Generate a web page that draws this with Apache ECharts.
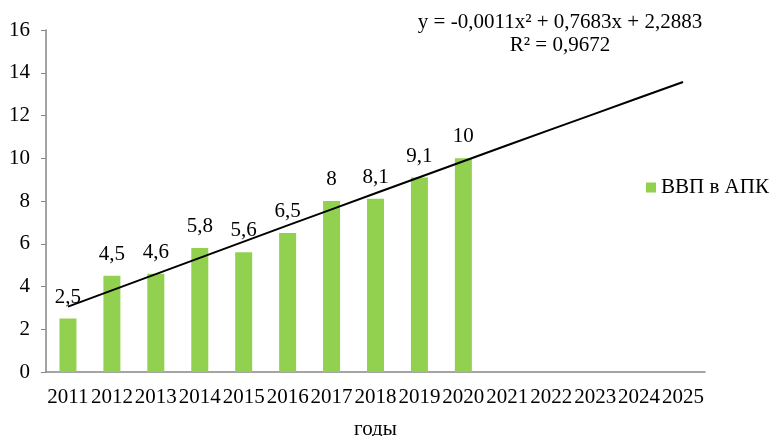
<!DOCTYPE html>
<html>
<head>
<meta charset="utf-8">
<script src="https://cdn.jsdelivr.net/npm/echarts@6/dist/echarts.min.js"></script>
<style>html,body{margin:0;padding:0;background:#fff;}#c{width:774px;height:436px;}</style>
</head>
<body>
<div id="c"></div>
<script>
var years = ['2011','2012','2013','2014','2015','2016','2017','2018','2019','2020','2021','2022','2023','2024','2025'];
var gdpAgro = [2.5, 4.5, 4.6, 5.8, 5.6, 6.5, 8, 8.1, 9.1, 10, null, null, null, null, null];
var trendValues = [3.06, 3.82, 4.58, 5.34, 6.10, 6.86, 7.61, 8.36, 9.11, 9.86, 10.61, 11.35, 12.09, 12.83, 13.57];
var yTicks = [0, 2, 4, 6, 8, 10, 12, 14, 16];
var seriesName = 'ВВП в АПК';
var xTitle = 'годы';
var eqLine1 = 'y = -0,0011x² + 0,7683x + 2,2883';
var eqLine2 = 'R² = 0,9672';

var font = 'Liberation Serif, Times New Roman, serif';
var fs = 21;
var chart = echarts.init(document.getElementById('c'), null, {renderer: 'canvas'});
chart.setOption({
  animation: false,
  textStyle: {fontFamily: font},
  grid: {left: 46, right: 69, top: 30, bottom: 64, containLabel: false, outerBoundsMode: 'none'},
  legend: {
    data: [seriesName],
    orient: 'vertical',
    left: 646, top: 177,
    padding: 0,
    itemWidth: 10, itemHeight: 10, itemGap: 4,
    icon: 'rect',
    textStyle: {fontFamily: font, fontSize: fs, color: '#000'}
  },
  xAxis: {
    type: 'category',
    data: years,
    name: xTitle,
    nameLocation: 'middle',
    nameGap: 47,
    nameTextStyle: {fontFamily: font, fontSize: fs, color: '#000'},
    axisLine: {lineStyle: {color: '#868686', width: 1.5}},
    axisTick: {show: false},
    axisLabel: {interval: 0, fontFamily: font, fontSize: fs, color: '#000', margin: 15}
  },
  yAxis: {
    type: 'value',
    min: yTicks[0], max: yTicks[yTicks.length - 1], interval: 2,
    splitLine: {show: false},
    axisLine: {show: true, lineStyle: {color: '#868686', width: 1.5}},
    axisTick: {show: true, length: 5, lineStyle: {color: '#868686'}},
    axisLabel: {fontFamily: font, fontSize: fs, color: '#000', margin: 16}
  },
  graphic: [
    {type: 'text', x: 560, y: 22, style: {text: eqLine1, fontFamily: font, fontSize: fs, fill: '#000', textAlign: 'center', textVerticalAlign: 'middle'}},
    {type: 'text', x: 560, y: 45, style: {text: eqLine2, fontFamily: font, fontSize: fs, fill: '#000', textAlign: 'center', textVerticalAlign: 'middle'}}
  ],
  series: [
    {
      name: seriesName,
      type: 'bar',
      data: gdpAgro,
      barWidth: 17,
      itemStyle: {color: '#92D050'},
      label: {
        show: true, position: 'top', distance: 11,
        fontFamily: font, fontSize: fs, color: '#000',
        formatter: function (p) { return p.value == null ? '' : String(p.value).replace('.', ','); }
      }
    },
    {
      name: 'trend',
      type: 'line',
      data: trendValues,
      symbol: 'none',
      smooth: false,
      lineStyle: {color: '#000', width: 2},
      z: 5
    }
  ]
});
</script>
</body>
</html>
